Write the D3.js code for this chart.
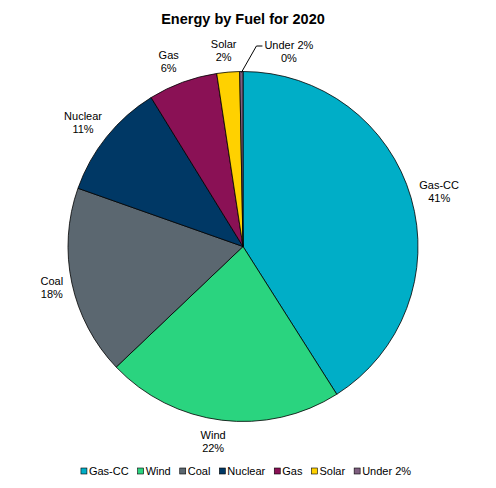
<!DOCTYPE html>
<html><head><meta charset="utf-8">
<script src="https://cdn.jsdelivr.net/npm/d3@7"></script>
<style>body{margin:0;background:#fff}</style></head>
<body><svg id="c" width="496" height="488"></svg>
<script>
const categories = ["Gas-CC","Wind","Coal","Nuclear","Gas","Solar","Under 2%"];
const values = [41.0,21.9,17.5,10.8,6.4,2.1,0.3];
const pctLabels = ["41%","22%","18%","11%","6%","2%","0%"];
const colors = ["#00AEC7","#2AD47F","#5B6770","#003865","#8A1155","#FFD100","#7F5F80"];
const title = "Energy by Fuel for 2020";

const W=496,H=488, cx=243, cy=246.5, R=175;
const font = "'Liberation Sans', Arial, sans-serif";
const svg = d3.select("#c");
svg.append("rect").attr("width",W).attr("height",H).attr("fill","#fff");
svg.append("text").attr("x",243).attr("y",24).attr("text-anchor","middle")
  .attr("font-family",font).attr("font-weight","bold").attr("font-size",14.5).attr("fill","#000").text(title);

const data = categories.map((c,i)=>({c, v:values[i], col:colors[i], p:pctLabels[i]}));
const pie = d3.pie().sort(null).value(d=>d.v);
const arcs = pie(data);
const arc = d3.arc().innerRadius(0).outerRadius(R);
const g = svg.append("g").attr("transform",`translate(${cx},${cy})`);
g.selectAll("path").data(arcs).join("path").attr("d",arc)
  .attr("fill",d=>d.data.col).attr("stroke","#000").attr("stroke-width",0.8);

// labels (outside end), with layout nudges for crowded tiny slices
const nudge = {"Gas":[-5,0], "Wind":[-3,0], "Under 2%":[50,2]};
const lh = 13;
arcs.forEach(a=>{
  const th = (a.startAngle+a.endAngle)/2;
  const s = Math.sin(th), c = Math.cos(th);
  const px = (R+9)*s, py = -(R+9)*c;
  const t = g.append("text").attr("font-family",font).attr("font-size",11).attr("fill","#000")
    .attr("text-anchor","middle");
  const l1 = t.append("tspan").text(a.data.c);
  const l2 = t.append("tspan").text(a.data.p);
  const w = Math.max(l1.node().getComputedTextLength(), l2.node().getComputedTextLength());
  let x = px + (w/2)*Math.sign(s)*Math.sqrt(Math.abs(s));
  let y = py - (lh)*c;
  const n = nudge[a.data.c];
  if(n){ x += n[0]; y += n[1]; }
  l1.attr("x",x).attr("y",y-lh/2).attr("dy","0.35em");
  l2.attr("x",x).attr("y",y+lh/2).attr("dy","0.35em");
  if(a.data.c==="Under 2%"){
    const ox = (R-1)*s, oy = -(R-1)*c;
    const ex = x - w/2 - 2, ey = y - lh/2 + 1;
    g.append("path").attr("d",`M${ox},${oy}L${ex-6},${ey}L${ex},${ey}`)
      .attr("fill","none").attr("stroke","#000").attr("stroke-width",1);
  }
});

// legend
const lg = svg.append("g");
const items = lg.selectAll("g").data(data).join("g");
items.append("rect").attr("width",6).attr("height",6).attr("y",-3)
  .attr("fill",d=>d.col).attr("stroke","#000").attr("stroke-width",0.6);
items.append("text").attr("x",8).attr("dy","0.35em").attr("font-family",font).attr("font-size",11)
  .attr("fill","#000").text(d=>d.c);
let xpos = 0; const gap = 9;
items.each(function(){
  const tw = d3.select(this).select("text").node().getComputedTextLength();
  d3.select(this).attr("transform",`translate(${xpos},0)`);
  xpos += 8 + tw + gap;
});
const total = xpos - gap;
lg.attr("transform",`translate(${246 - total/2},471)`);
</script></body></html>
